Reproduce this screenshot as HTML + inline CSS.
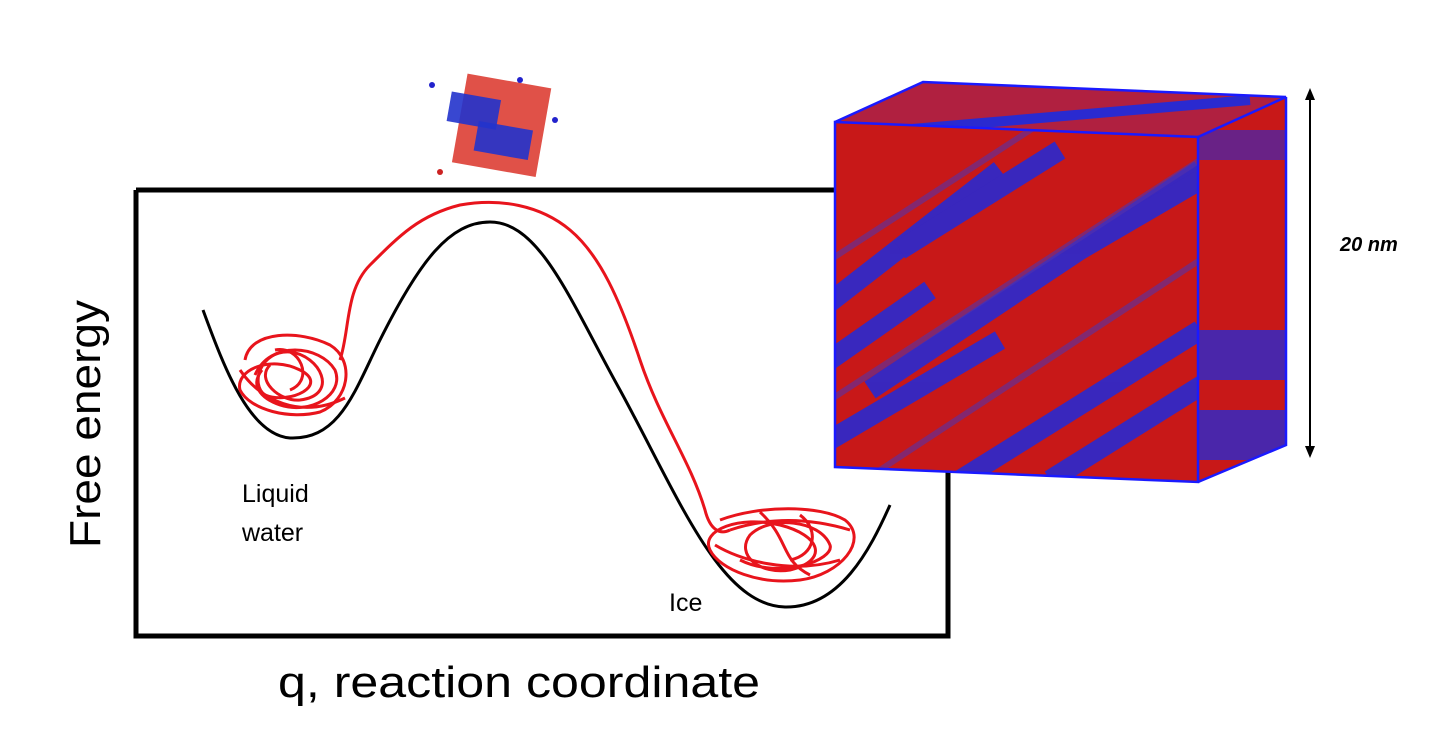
<!DOCTYPE html>
<html><head><style>
html,body{margin:0;padding:0;background:#fff;}
svg{display:block;}
text{font-family:"Liberation Sans",sans-serif;}
</style></head><body>
<svg width="1440" height="732" viewBox="0 0 1440 732">
<defs>
<clipPath id="front"><polygon points="835,122 1198,137 1198,482 835,467"/></clipPath>
<clipPath id="side"><polygon points="1198,137 1286,97 1286,445 1198,482"/></clipPath>
<clipPath id="top"><polygon points="835,122 923,82 1286,97 1198,137"/></clipPath>
</defs>
<path d="M136,190 H840 M136,190 V636 H948 V470" fill="none" stroke="#000" stroke-width="5"/>
<path d="M203,310 C225,370 250,435 290,438 C340,440 355,390 380,340 C420,260 450,222 490,222 C540,222 570,300 620,390 C680,500 720,605 785,607 C840,608 870,550 890,505" fill="none" stroke="#000" stroke-width="3"/>
<path d="M340,360 C350,330 345,290 370,265 C400,235 420,215 460,205 C500,198 540,205 570,230 C600,255 620,300 640,360 C660,420 690,460 705,510 C710,530 720,535 730,530" fill="none" stroke="#e8141c" stroke-width="3"/>
<g fill="none" stroke="#e8141c" stroke-width="3">
<path d="M245,360 C250,330 300,330 330,345 C355,360 350,400 320,412 C290,420 250,410 240,390 C235,370 270,355 300,370 C330,385 290,405 265,395 C250,385 260,350 290,352 C320,355 340,395 300,400 C280,402 255,380 270,365"/>
<path d="M255,375 C270,340 320,345 335,370 C345,395 310,415 280,405 C260,398 250,385 262,370 M240,370 C260,400 300,420 345,398 M275,350 C300,345 315,380 290,390"/>
<path d="M720,520 C760,505 820,505 845,520 C870,540 840,575 800,580 C760,585 720,570 710,550 C700,530 740,515 780,525 C820,535 830,560 790,570 C760,575 735,555 750,535 C770,515 820,520 830,545 C835,560 780,580 740,560"/>
<path d="M730,530 C760,520 800,515 850,530 M715,545 C740,560 790,575 840,560 M760,512 C790,540 780,560 810,575 M800,515 C820,530 815,555 790,560"/>
</g>
<text x="242" y="502" font-size="25">Liquid</text>
<text x="242" y="541" font-size="25">water</text>
<text x="669" y="611" font-size="25">Ice</text>
<text x="278" y="697" font-size="44" textLength="482" lengthAdjust="spacingAndGlyphs">q, reaction coordinate</text>
<text transform="translate(100,548) rotate(-90)" font-size="44" textLength="248" lengthAdjust="spacingAndGlyphs">Free energy</text>
<g>
<rect x="460" y="80" width="85" height="90" fill="#d8261a" transform="rotate(10 500 120)" opacity="0.8"/>
<rect x="448" y="95" width="50" height="30" fill="#2233cc" transform="rotate(10 470 115)" opacity="0.9"/>
<rect x="475" y="125" width="55" height="30" fill="#2233cc" transform="rotate(10 500 145)" opacity="0.9"/>
<circle cx="432" cy="85" r="3" fill="#22c"/><circle cx="520" cy="80" r="3" fill="#22c"/><circle cx="440" cy="172" r="3" fill="#c22"/><circle cx="555" cy="120" r="3" fill="#22c"/>
</g>
<g clip-path="url(#front)">
<rect x="830" y="80" width="380" height="410" fill="#c81818"/>
<g stroke="#2a2ad0" stroke-width="20" opacity="0.9">
<line x1="820" y1="310" x2="1000" y2="170"/>
<line x1="870" y1="390" x2="1200" y2="170"/>
<line x1="830" y1="440" x2="1000" y2="340"/>
<line x1="960" y1="480" x2="1200" y2="330"/>
<line x1="1050" y1="480" x2="1210" y2="380"/>
<line x1="900" y1="250" x2="1060" y2="150"/>
<line x1="830" y1="360" x2="930" y2="290"/>
<line x1="1080" y1="250" x2="1200" y2="180"/>
</g>
<g stroke="#5533aa" stroke-width="6" opacity="0.6">
<line x1="830" y1="260" x2="1200" y2="20"/>
<line x1="830" y1="400" x2="1200" y2="160"/>
<line x1="880" y1="470" x2="1200" y2="260"/>
</g>
</g>
<g clip-path="url(#side)">
<rect x="1195" y="90" width="95" height="400" fill="#c81818"/>
<rect x="1195" y="330" width="95" height="50" fill="#2a2ad0" opacity="0.8"/>
<rect x="1195" y="410" width="95" height="50" fill="#2a2ad0" opacity="0.8"/>
<rect x="1195" y="130" width="95" height="30" fill="#2a2ad0" opacity="0.6"/>
</g>
<g clip-path="url(#top)">
<rect x="830" y="80" width="460" height="60" fill="#b02040"/>
<line x1="900" y1="130" x2="1250" y2="100" stroke="#2a2ad0" stroke-width="10"/>
</g>
<g fill="none" stroke="#1a1aff" stroke-width="2.5">
<polygon points="835,122 1198,137 1198,482 835,467"/>
<polyline points="835,122 923,82 1286,97 1198,137"/>
<polyline points="1286,97 1286,445 1198,482"/>
</g>
<line x1="1310" y1="96" x2="1310" y2="450" stroke="#000" stroke-width="2"/>
<polygon points="1310,88 1305,100 1315,100" fill="#000"/>
<polygon points="1310,458 1305,446 1315,446" fill="#000"/>
<text x="1340" y="251" font-size="20" font-weight="bold" font-style="italic">20 nm</text>
</svg>
</body></html>
